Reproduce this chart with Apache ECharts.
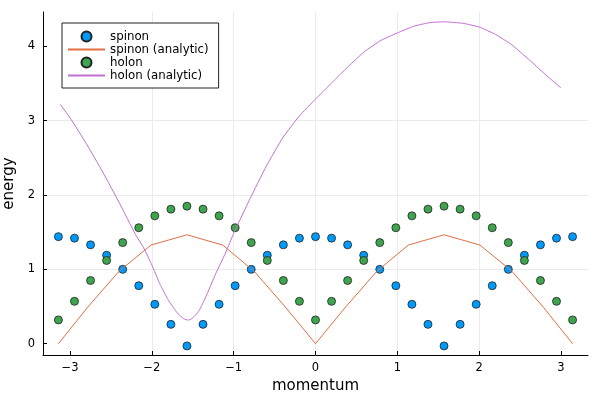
<!DOCTYPE html>
<html lang="en">
<head>
    <meta charset="UTF-8">
    <title>spinon / holon</title>
    <style>
        html, body { margin: 0; padding: 0; background: #fff; }
        #main { width: 600px; height: 400px; }
    </style>
</head>
<body>
<div id="main"></div>

<script src="https://cdn.jsdelivr.net/npm/echarts@6/dist/echarts.min.js"></script>
<script>
    // momentum grid of the sampled points (-pi .. pi, step pi/16)
    var momentum = [-3.1416, -2.9452, -2.7489, -2.5525, -2.3562, -2.1598, -1.9635, -1.7671, -1.5708,
        -1.3744, -1.1781, -0.9817, -0.7854, -0.5890, -0.3927, -0.1963, 0,
        0.1963, 0.3927, 0.5890, 0.7854, 0.9817, 1.1781, 1.3744, 1.5708,
        1.7671, 1.9635, 2.1598, 2.3562, 2.5525, 2.7489, 2.9452, 3.1416];

    var spinon = [1.44, 1.42, 1.33, 1.19, 1.00, 0.78, 0.53, 0.26, -0.03,
        0.26, 0.53, 0.78, 1.00, 1.19, 1.33, 1.42, 1.44,
        1.42, 1.33, 1.19, 1.00, 0.78, 0.53, 0.26, -0.03,
        0.26, 0.53, 0.78, 1.00, 1.19, 1.33, 1.42, 1.44];

    var holon = [0.32, 0.57, 0.85, 1.12, 1.36, 1.56, 1.72, 1.81, 1.85,
        1.81, 1.72, 1.56, 1.36, 1.12, 0.85, 0.57, 0.32,
        0.57, 0.85, 1.12, 1.36, 1.56, 1.72, 1.81, 1.85,
        1.81, 1.72, 1.56, 1.36, 1.12, 0.85, 0.57, 0.32];

    // analytic curves
    var spinonAnK = [-3.1416, -2.785, -2.40, -2.01, -1.5708, -1.134, -0.746, -0.358, 0,
        0.358, 0.746, 1.134, 1.5708, 2.01, 2.40, 2.785, 3.1416];
    var spinonAnE = [0, 0.49, 0.975, 1.327, 1.465, 1.327, 0.97, 0.48, 0,
        0.48, 0.97, 1.327, 1.465, 1.327, 0.975, 0.49, 0];

    var holonAnK = [-3.12, -3.0, -2.8, -2.6, -2.4, -2.2, -2.1, -2.0, -1.9, -1.8, -1.7, -1.65,
        -1.6, -1.56, -1.52, -1.47, -1.42, -1.34, -1.22, -1.1, -0.99, -0.8, -0.6, -0.4, -0.2,
        0, 0.2, 0.4, 0.6, 0.8, 1.0, 1.2, 1.4, 1.57, 1.8, 2.0, 2.2, 2.4, 2.6, 2.8, 3.0];
    var holonAnE = [3.22, 3.04, 2.69, 2.31, 1.90, 1.47, 1.29, 1.06, 0.80, 0.59, 0.43, 0.37,
        0.33, 0.318, 0.33, 0.38, 0.45, 0.63, 0.94, 1.22, 1.51, 1.95, 2.39, 2.77, 3.06,
        3.29, 3.51, 3.73, 3.93, 4.08, 4.18, 4.27, 4.32, 4.33, 4.31, 4.26, 4.16, 4.02, 3.83, 3.63, 3.44];

    var xTicks = [-3, -2, -1, 0, 1, 2, 3];
    var yTicks = [0, 1, 2, 3, 4];

    function pairs(xs, ys) {
        return xs.map(function (x, i) { return [x, ys[i]]; });
    }
    function minus(v) {
        return String(v).replace('-', '\u2212');
    }

    var font = 'DejaVu Sans';
    var chart = echarts.init(document.getElementById('main'));

    var option = {
        animation: false,
        backgroundColor: '#fff',
        textStyle: { fontFamily: font },
        grid: { left: 43, right: 12, top: 12, bottom: 45, containLabel: false, outerBoundsMode: 'none' },
        legend: {
            orient: 'vertical',
            left: 62,
            top: 23,
            itemWidth: 37,
            itemHeight: 10,
            itemGap: 0,
            padding: [7, 10, 6, 5],
            borderColor: '#222',
            borderWidth: 1,
            backgroundColor: '#fff',
            textStyle: { fontFamily: font, fontSize: 11.8, color: '#000', lineHeight: 13 },
            data: ['spinon', 'spinon (analytic)', 'holon', 'holon (analytic)']
        },
        xAxis: {
            type: 'value',
            min: -3.33,
            max: 3.33,
            name: 'momentum',
            nameLocation: 'middle',
            nameGap: 22,
            nameTextStyle: { fontFamily: font, fontSize: 15, color: '#000' },
            axisLine: { onZero: false, lineStyle: { color: '#000', width: 1 } },
            axisTick: { inside: true, length: 4, customValues: xTicks, lineStyle: { color: '#000' } },
            axisLabel: {
                customValues: xTicks, margin: 7, fontSize: 11.5, color: '#000', fontFamily: font,
                formatter: minus
            },
            splitLine: {
                show: true, showMinLine: false, showMaxLine: false,
                lineStyle: { color: '#ebebeb', width: 1 }
            }
        },
        yAxis: {
            type: 'value',
            min: -0.152,
            max: 4.462,
            name: 'energy',
            nameLocation: 'middle',
            nameGap: 23,
            nameTextStyle: { fontFamily: font, fontSize: 15, color: '#000' },
            axisLine: { show: true, onZero: false, lineStyle: { color: '#000', width: 1 } },
            axisTick: { show: true, inside: true, length: 4, customValues: yTicks, lineStyle: { color: '#000' } },
            axisLabel: { customValues: yTicks, margin: 8, fontSize: 11.5, color: '#000', fontFamily: font },
            splitLine: {
                show: true, showMinLine: false, showMaxLine: false,
                lineStyle: { color: '#ebebeb', width: 1 }
            }
        },
        series: [
            {
                name: 'spinon',
                type: 'scatter',
                symbol: 'circle',
                symbolSize: 8,
                itemStyle: { color: '#009AFA', borderColor: '#222', borderWidth: 0.8, opacity: 1 },
                data: pairs(momentum, spinon)
            },
            {
                name: 'spinon (analytic)',
                type: 'line',
                symbol: 'none',
                itemStyle: { color: '#E26F46', opacity: 0 },
                lineStyle: { color: '#E26F46', width: 1, opacity: 1 },
                data: pairs(spinonAnK, spinonAnE)
            },
            {
                name: 'holon',
                type: 'scatter',
                symbol: 'circle',
                symbolSize: 8,
                itemStyle: { color: '#3EA44E', borderColor: '#222', borderWidth: 0.8, opacity: 1 },
                data: pairs(momentum, holon)
            },
            {
                name: 'holon (analytic)',
                type: 'line',
                symbol: 'none',
                smooth: 0.15,
                itemStyle: { color: '#C271D2', opacity: 0 },
                lineStyle: { color: '#C271D2', width: 1, opacity: 1 },
                data: pairs(holonAnK, holonAnE)
            }
        ]
    };

    option && chart.setOption(option);
</script>
</body>
</html>
